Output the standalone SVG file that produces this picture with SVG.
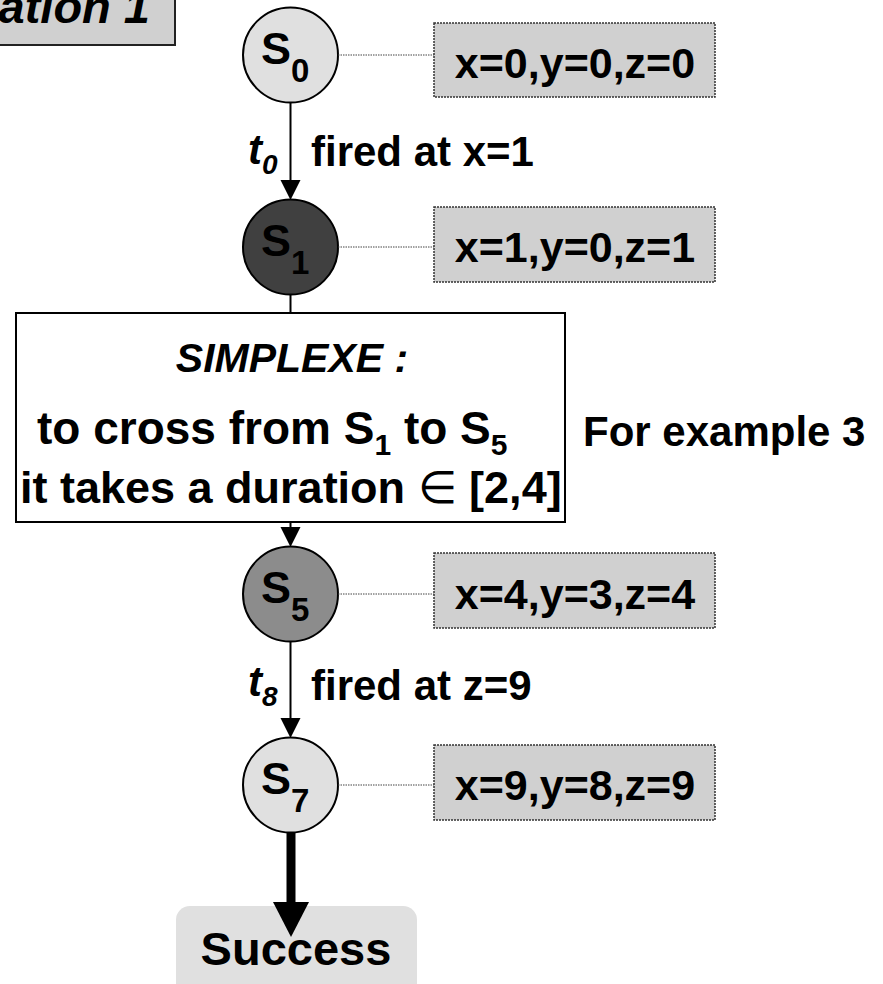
<svg xmlns="http://www.w3.org/2000/svg" width="883" height="984" viewBox="0 0 883 984">
<defs>
<style>
text{font-family:"Liberation Sans",Arial,sans-serif;font-weight:bold;fill:#000}
.st{stroke:#000;stroke-width:2}
.lbl{fill:#d0d0d0;stroke:#333;stroke-width:1.5;stroke-dasharray:2 1}
.dot{stroke:#444;stroke-width:1;stroke-dasharray:1.5 1;fill:none}
.edge{stroke:#000;stroke-width:2;fill:none}
.big{font-size:43px}
.sl{font-size:45px}
.sub{font-size:33px}
.it{font-style:italic}
</style>
</defs>
<rect x="-10" y="-10" width="904" height="1004" fill="#fff"/>
<g id="title">
<rect x="-5" y="-5" width="180" height="50" fill="#d0d0d0" stroke="#222" stroke-width="2"/>
<text x="150" y="23" font-size="47" class="it" text-anchor="end">ation 1</text>
</g>
<g id="S0">
<circle class="st" cx="290.5" cy="55" r="47.5" fill="#e0e0e0"/>
<text x="261" y="64" class="sl">S<tspan class="sub" dy="18">0</tspan></text>
</g>
<g id="S0label">
<rect class="lbl" x="434" y="23" width="281" height="74"/>
<text x="575" y="78" class="big" text-anchor="middle">x=0,y=0,z=0</text>
</g>
<g id="S1">
<circle class="st" cx="290.5" cy="247" r="47.5" fill="#404040"/>
<text x="261" y="256" class="sl">S<tspan class="sub" dy="18">1</tspan></text>
</g>
<g id="S1label">
<rect class="lbl" x="434" y="207" width="281" height="75"/>
<text x="575" y="262" class="big" text-anchor="middle">x=1,y=0,z=1</text>
</g>
<g id="simplexe">
<rect x="16" y="313" width="549" height="209" fill="#fff" stroke="#000" stroke-width="2"/>
<text x="292" y="372" font-size="41" class="it" text-anchor="middle">SIMPLEXE :</text>
<text x="37" y="444" font-size="46">to cross from S<tspan font-size="30" dy="11">1</tspan><tspan dy="-11"> to S</tspan><tspan font-size="30" dy="11">5</tspan></text>
<text x="20" y="503" font-size="45">it takes a duration <tspan font-weight="normal">∈</tspan>  [2,4]</text>
</g>
<text id="example" x="583" y="446" font-size="42">For example 3</text>
<g id="S5">
<circle class="st" cx="290.5" cy="594" r="47.5" fill="#8c8c8c"/>
<text x="261" y="603" class="sl">S<tspan class="sub" dy="18">5</tspan></text>
</g>
<g id="S5label">
<rect class="lbl" x="434" y="553" width="281" height="75"/>
<text x="575" y="609" class="big" text-anchor="middle">x=4,y=3,z=4</text>
</g>
<g id="S7">
<circle class="st" cx="290.5" cy="785" r="47.5" fill="#e0e0e0"/>
<text x="261" y="794" class="sl">S<tspan class="sub" dy="18">7</tspan></text>
</g>
<g id="S7label">
<rect class="lbl" x="434" y="745" width="281" height="75"/>
<text x="575" y="800" class="big" text-anchor="middle">x=9,y=8,z=9</text>
</g>
<g id="success">
<rect x="176" y="906" width="241" height="100" rx="14" fill="#e0e0e0"/>
<text x="296" y="965" font-size="47" text-anchor="middle">Success</text>
</g>
<g id="connectors">
<line class="edge" x1="290.5" y1="102" x2="290.5" y2="182"/>
<polygon points="280.5,180 300.5,180 290.5,200"/>
<line class="edge" x1="290.5" y1="295" x2="290.5" y2="313"/>
<line class="edge" x1="290.5" y1="522" x2="290.5" y2="529"/>
<polygon points="280.5,527 300.5,527 290.5,547"/>
<line class="edge" x1="290.5" y1="642" x2="290.5" y2="720"/>
<polygon points="280.5,718 300.5,718 290.5,738"/>
<line stroke="#000" stroke-width="9" x1="291" y1="833" x2="291" y2="905"/>
<polygon points="273,902 309,902 291,937"/>
<line class="dot" x1="338" y1="55" x2="434" y2="55"/>
<line class="dot" x1="338" y1="247" x2="434" y2="247"/>
<line class="dot" x1="338" y1="594" x2="434" y2="594"/>
<line class="dot" x1="338" y1="785" x2="434" y2="785"/>
<text x="248" y="164" font-size="42" class="it">t<tspan font-size="28" dy="10">0</tspan></text>
<text x="311" y="166" font-size="42">fired at x=1</text>
<text x="248" y="696" font-size="42" class="it">t<tspan font-size="28" dy="10">8</tspan></text>
<text x="311" y="700" font-size="42">fired at z=9</text>
</g>
</svg>
